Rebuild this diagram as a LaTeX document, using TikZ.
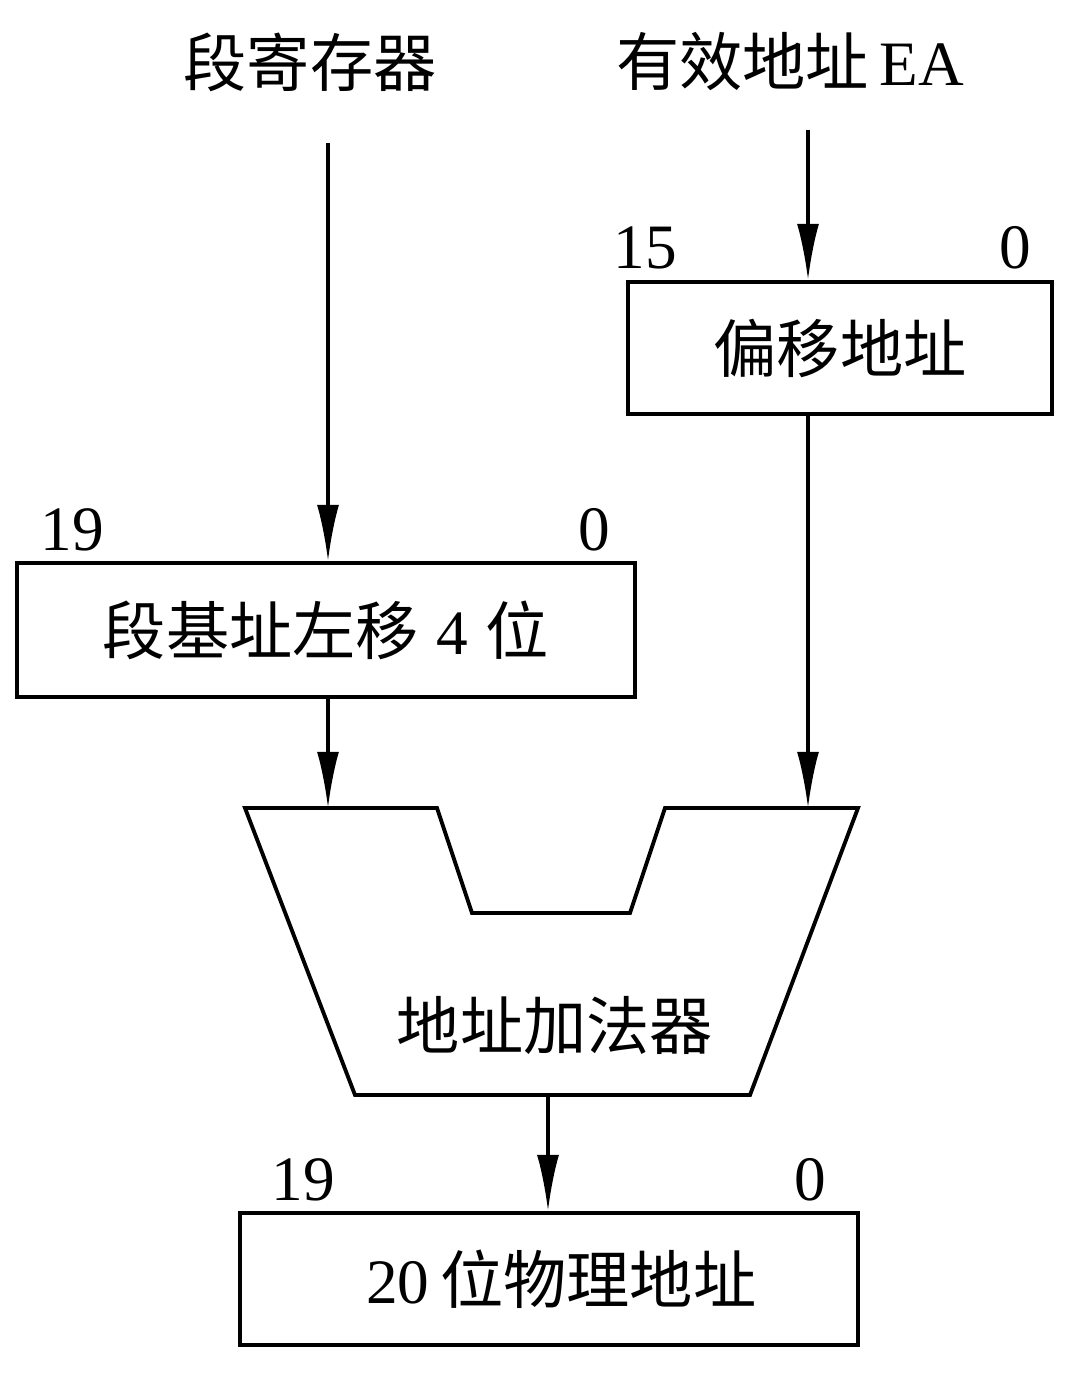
\documentclass[tikz,border=0pt]{standalone}
\usepackage{fontspec}
\setmainfont{Liberation Serif}
\newfontfamily\cjk{Noto Sans CJK SC}
\usetikzlibrary{arrows.meta}
\begin{document}
\begin{tikzpicture}[x=0.02cm,y=-0.02cm,
  every node/.style={font=\fontsize{36}{40}\selectfont, inner sep=0pt},
  box/.style={draw, line width=2.2pt},
  arr/.style={line width=1.9pt, -{Latex[length=32pt,width=12.5pt]}},
  lbl/.style={font=\fontsize{36}{40}\selectfont}]
\useasboundingbox (0,0) rectangle (1080,1385);
% titles
\node (tseg) at (310,62) {\cjk 段寄存器};
\node (tea) at (790,62) {\cjk 有效地址\,\rmfamily EA};
% boxes
\node[box, minimum width=8.48cm, minimum height=2.64cm] (off) at (840,348) {\cjk 偏移地址};
\node[box, minimum width=12.36cm, minimum height=2.68cm] (seg) at (326,630) {\cjk 段基址左移\hspace{10pt}\rmfamily 4\hspace{10pt}\cjk 位};
\node[box, minimum width=12.36cm, minimum height=2.64cm] (phys) at (549,1279) {\hspace{14pt}\rmfamily 20\,\cjk 位物理地址};
% bit labels
\node[lbl] (b19a) at (72,530) {19};
\node[lbl] (b0a) at (594,530) {0};
\node[lbl] (b15) at (645,248) {15};
\node[lbl] (b0b) at (1015,248) {0};
\node[lbl] (b19c) at (303,1180) {19};
\node[lbl] (b0c) at (810,1180) {0};
% adder
\draw[line width=2.2pt, line join=miter] (245,808) -- (437,808) -- (472,913) -- (630,913) -- (665,808) -- (858,808) -- (750,1095) -- (355,1095) -- cycle;
\node (add) at (555,1025) {\cjk 地址加法器};
\coordinate (inL) at (328,808);
\coordinate (inR) at (808,808);
\coordinate (addout) at (548,1095);
\coordinate (sL) at (328,143);
\coordinate (sR) at (808,130);
% arrows
\draw[arr] (sL) -- (seg.north -| sL);
\draw[arr] (sR) -- (off.north -| sR);
\draw[arr] (seg.south -| inL) -- (inL);
\draw[arr] (off.south -| inR) -- (inR);
\draw[arr] (addout) -- (phys.north -| addout);
\end{tikzpicture}
\end{document}
